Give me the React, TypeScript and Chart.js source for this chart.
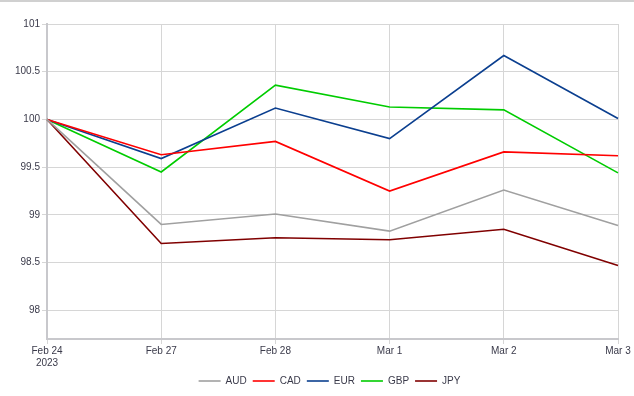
import React, { useEffect, useRef } from "react";
import { Chart, registerables } from "chart.js";

Chart.register(...registerables);

const categories: (string | string[])[] = [["Feb 24", "2023"], "Feb 27", "Feb 28", "Mar 1", "Mar 2", "Mar 3"];
const audValues = [100, 98.9, 99.01, 98.83, 99.26, 98.89];
const cadValues = [100, 99.63, 99.77, 99.25, 99.66, 99.62];
const eurValues = [100, 99.59, 100.12, 99.8, 100.67, 100.01];
const gbpValues = [100, 99.45, 100.36, 100.13, 100.1, 99.44];
const jpyValues = [100, 98.7, 98.76, 98.74, 98.85, 98.47];
const yTickValues = [98, 98.5, 99, 99.5, 100, 100.5, 101];

const seriesNames = ["AUD", "CAD", "EUR", "GBP", "JPY"];
const seriesColors = ["#a0a0a0", "#ff0000", "#0b3f8f", "#00cc00", "#800000"];

const shiftLegend = {
  id: "shiftLegend",
  afterLayout(chart: any) {
    if (chart.legend) {
      chart.legend.left += 14;
      chart.legend.right += 14;
    }
  },
};

export default function App() {
  const ref = useRef<HTMLCanvasElement>(null);
  useEffect(() => {
    document.body.style.margin = "0";
    const ctx = ref.current!;
    const all = [audValues, cadValues, eurValues, gbpValues, jpyValues];
    const font = { family: "'Liberation Sans', Arial, sans-serif", size: 10 };
    const chart = new Chart(ctx, {
      type: "line",
      data: {
        labels: categories,
        datasets: all.map((d, i) => ({
          label: seriesNames[i],
          data: d,
          borderColor: seriesColors[i],
          backgroundColor: seriesColors[i],
          borderWidth: 1.6,
          pointRadius: 0,
          tension: 0,
        })),
      },
      plugins: [shiftLegend],
      options: {
        animation: false,
        responsive: false,
        layout: { padding: { top: 22, right: 16, left: 13, bottom: 0 } },
        plugins: {
          tooltip: { enabled: false },
          legend: {
            position: "bottom",
            labels: {
              usePointStyle: true,
              pointStyle: "line",
              pointStyleWidth: 22,
              boxWidth: 22,
              boxHeight: 8,
              padding: 6,
              color: "#3a3a4a",
              font,
            },
          },
        },
        scales: {
          x: {
            offset: false,
            grid: { color: "#d6d6d6", lineWidth: 1, tickLength: 5, drawTicks: true },
            border: { color: "#c8c8cc", width: 2 },
            ticks: { color: "#3a3a4a", font, maxRotation: 0, padding: 1 },
          },
          y: {
            min: 97.7,
            max: 101,
            grid: { color: "#d6d6d6", lineWidth: 1, tickLength: 5 },
            border: { color: "#c8c8cc", width: 2 },
            afterBuildTicks: (scale: any) => {
              scale.ticks = yTickValues.map((v) => ({ value: v }));
            },
            ticks: { color: "#3a3a4a", font, padding: 2, callback: (v: any) => String(v) },
          },
        },
      },
    });
    return () => chart.destroy();
  }, []);
  return (
    <div style={{ width: 634, height: 396, borderTop: "2px solid #d0d0d0", boxSizing: "border-box" }}>
      <canvas ref={ref} width={634} height={394} style={{ display: "block" }} />
    </div>
  );
}
